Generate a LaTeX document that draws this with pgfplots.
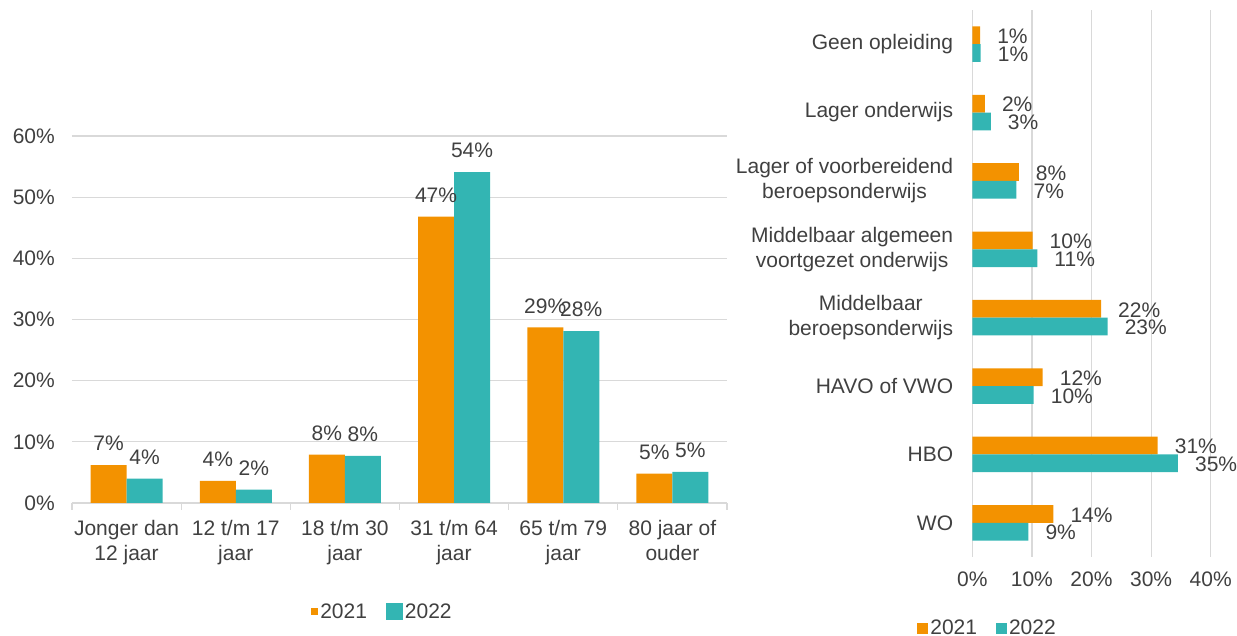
\documentclass[border=0pt]{standalone}
\usepackage{pgfplots}
\pgfplotsset{compat=1.18}
\usepackage{fontspec}
\setmainfont{Liberation Sans}
\definecolor{orng}{HTML}{F39200}
\definecolor{tealc}{HTML}{33B5B3}
\definecolor{txt}{HTML}{404040}
\definecolor{grd}{HTML}{D9D9D9}
\begin{document}
\begin{tikzpicture}[font=\fontsize{21}{25}\selectfont, text=txt]
\useasboundingbox (0,0) rectangle (1237pt,636pt);
% ---------------- left chart ----------------
\begin{axis}[
  at={(72pt,133pt)}, anchor=south west, scale only axis,
  width=655pt, height=367pt,
  xmin=-0.5, xmax=5.5, ymin=0, ymax=60,
  ybar=0pt, bar width=36pt,
  axis lines*=left,
  y axis line style={draw=none},
  x axis line style={draw=grd, line width=1.2pt},
  ymajorgrids, grid style={draw=grd, line width=1.2pt},
  ytick={0,10,20,30,40,50,60},
  yticklabels={0\%,10\%,20\%,30\%,40\%,50\%,60\%},
  ytick style={draw=none},
  xtick={0,1,2,3,4,5},
  xticklabels={Jonger dan\\12 jaar,12 t/m 17\\jaar,18 t/m 30\\jaar,31 t/m 64\\jaar,65 t/m 79\\jaar,80 jaar of\\ouder},
  major x tick style={draw=none},
  minor xtick={-0.5,0.5,1.5,2.5,3.5,4.5,5.5},
  minor x tick style={draw=grd, line width=1.2pt},
  minor tick length=7pt, major tick length=0pt, tick align=outside,
  xticklabel style={align=center, anchor=north, inner sep=0pt, yshift=-17pt, text=txt},
  yticklabel style={anchor=east, inner sep=0pt, xshift=-17pt, text=txt},
  nodes near coords, point meta=explicit symbolic,
  every node near coord/.append style={anchor=south, inner sep=0pt, yshift=14pt, text=txt},
  legend style={at={(0.474,-0.297)}, anchor=center, draw=none, fill=none, text=txt,
    legend columns=2, /tikz/every even column/.append style={column sep=17pt}},
]
\addplot[fill=orng, draw=none,
  legend image code/.code={\fill[orng] (0pt,-3.5pt) rectangle (7pt,3.5pt);}]
  coordinates {(0,6.2)[7\%] (1,3.6)[4\%] (2,7.9)[8\%] (3,46.8)[47\%] (4,28.7)[29\%] (5,4.8)[5\%]};
\addlegendentry{2021}
\addplot[fill=tealc, draw=none,
  legend image code/.code={\fill[tealc] (0pt,-8.5pt) rectangle (17pt,8.5pt);}]
  coordinates {(0,4.0)[4\%] (1,2.2)[2\%] (2,7.7)[8\%] (3,54.1)[54\%] (4,28.1)[28\%] (5,5.1)[5\%]};
\addlegendentry{2022}
\end{axis}
% ---------------- right chart ----------------
\begin{axis}[
  at={(972.3pt,79pt)}, anchor=south west, scale only axis,
  width=238.4pt, height=547pt,
  xmin=0, xmax=40, ymin=-0.5, ymax=7.5,
  xbar=0pt, bar width=17.7pt,
  axis line style={draw=none},
  xmajorgrids, grid style={draw=grd, line width=1.2pt},
  xtick={0,10,20,30,40},
  xticklabels={0\%,10\%,20\%,30\%,40\%},
  tick style={draw=none}, major tick length=0pt,
  ytick={0,1,2,3,4,5,6,7},
  yticklabels={WO,HBO,HAVO of VWO,Middelbaar\\beroepsonderwijs,Middelbaar algemeen\\voortgezet onderwijs,Lager of voorbereidend\\beroepsonderwijs,Lager onderwijs,Geen opleiding},
  yticklabel style={align=center, anchor=east, inner sep=0pt, xshift=-19pt, text=txt},
  xticklabel style={anchor=north, inner sep=0pt, yshift=-15pt, text=txt},
  nodes near coords, point meta=explicit symbolic,
  every node near coord/.append style={anchor=west, inner sep=0pt, xshift=17pt, yshift=-1pt, text=txt},
  legend style={at={(0.064,-0.13)}, anchor=center, draw=none, fill=none, text=txt,
    legend columns=2, /tikz/every even column/.append style={column sep=17pt}},
]
\addplot[fill=orng, draw=none, bar shift=8.85pt,
  legend image code/.code={\fill[orng] (0pt,-5.5pt) rectangle (11pt,5.5pt);}]
  coordinates {(1.3,7)[1\%] (2.1,6)[2\%] (7.8,5)[8\%] (10.1,4)[10\%] (21.6,3)[22\%] (11.8,2)[12\%] (31.1,1)[31\%] (13.6,0)[14\%]};
\addlegendentry{2021}
\addplot[fill=tealc, draw=none, bar shift=-8.85pt,
  legend image code/.code={\fill[tealc] (0pt,-5.5pt) rectangle (11pt,5.5pt);}]
  coordinates {(1.4,7)[1\%] (3.1,6)[3\%] (7.4,5)[7\%] (10.9,4)[11\%] (22.7,3)[23\%] (10.3,2)[10\%] (34.5,1)[35\%] (9.4,0)[9\%]};
\addlegendentry{2022}
\end{axis}
\end{tikzpicture}
\end{document}
